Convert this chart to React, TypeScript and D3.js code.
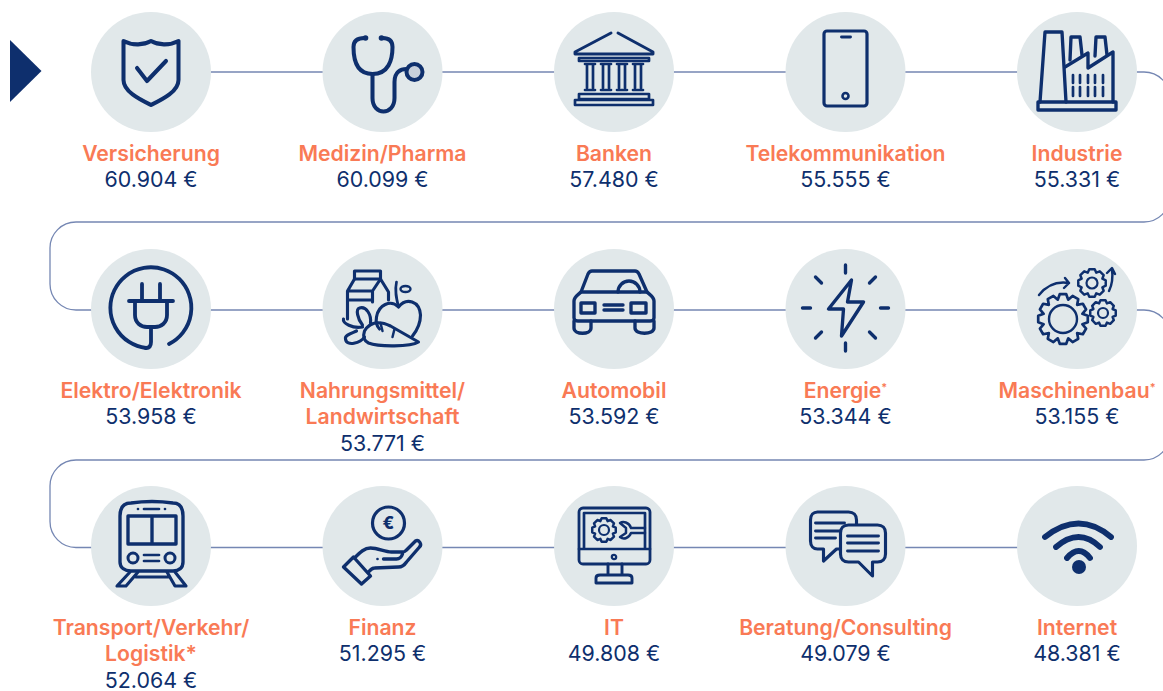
import React from "react";
import * as d3 from "d3";

const width = 1163;
const height = 691;

const categories = [
  ["Versicherung"],
  ["Medizin/Pharma"],
  ["Banken"],
  ["Telekommunikation"],
  ["Industrie"],
  ["Elektro/Elektronik"],
  ["Nahrungsmittel/", "Landwirtschaft"],
  ["Automobil"],
  ["Energie"],
  ["Maschinenbau"],
  ["Transport/Verkehr/", "Logistik*"],
  ["Finanz"],
  ["IT"],
  ["Beratung/Consulting"],
  ["Internet"],
];
const salaries = [
  60904, 60099, 57480, 55555, 55331, 53958, 53771, 53592, 53344, 53155, 52064,
  51295, 49808, 49079, 48381,
];
const superscriptStar = ["Energie", "Maschinenbau"];

const navy = "#0e2f6d";
const coral = "#f97a55";
const disc = "#e1e8ea";
const wire = "#7587b3";

const columns = [0, 1, 2, 3, 4];
const rows = [0, 1, 2];
const xScale = d3.scalePoint<number>().domain(columns).range([151, 1077]);
const yScale = d3.scalePoint<number>().domain(rows).range([72, 546]);

const de = d3.formatLocale({
  decimal: ",",
  thousands: ".",
  grouping: [3],
  currency: ["", " €"],
});
const euro = de.format(",d");

// cog outline, used by a few of the icons
const gearPath = (outer: number, inner: number, teeth: number) => {
  const pts: [number, number][] = [];
  const step = (Math.PI * 2) / teeth;
  for (let i = 0; i < teeth; i++) {
    const a = i * step;
    [
      [-0.5, inner],
      [-0.25, outer],
      [0.25, outer],
      [0.5, inner],
    ].forEach(([f, r]) => pts.push([a + f * step, r]));
  }
  return d3.lineRadial().curve(d3.curveLinearClosed)(pts) as string;
};

const S = (d: string, sw = 3, fill = "none") => (
  <path d={d} fill={fill} stroke={navy} strokeWidth={sw * 1.12} strokeLinejoin="round" strokeLinecap="round" />
);

const Gear = ({ x, y, r, hole, teeth, sw = 2.4 }: any) => (
  <g transform={`translate(${x},${y})`}>
    {S(gearPath(r, r * 0.8, teeth), sw)}
    <circle r={hole} fill="none" stroke={navy} strokeWidth={sw} />
  </g>
);

const icons: React.ReactNode[] = [
  <g>
    {S("M-27.5,-31 C-18,-26 -7,-27 0,-31 C7,-27 18,-26 27.5,-31 L27.5,8 C27.5,20 10,28 0,33 C-10,28 -27.5,20 -27.5,8 Z", 3.6)}
    {S("M-14,-4 L-4,9 L15,-11", 3.6)}
  </g>,
  <g>
    {S("M-18,-34 C-24,-34 -29,-32 -29,-25 C-29,-12 -26,2 -10,2 C6,2 10,-12 10,-25 C10,-32 6,-34 0,-34", 3.6)}
    {S("M-10,2 L-10,26 C-10,44 12,44 12,26 L12,10 C12,0 18,-3 24,-3", 3.6)}
    <circle cx={-17} cy={-34} r={2.8} fill={navy} />
    <circle cx={-1} cy={-34} r={2.8} fill={navy} />
    <circle cx={32} cy={0} r={8} fill="#c7cfdb" stroke={navy} strokeWidth={4} />
  </g>,
  <g>
    {S("M-3,-39 L-39,-20 L-39,-18 L39,-18 L39,-20 L4,-39", 2.6)}
    {S("M-35,-14 L35,-14 M-35,-14 L-35,-11 L35,-11 L35,-14", 2.4)}
    {[-24, -8, 8, 24].map((c) => (
      <g key={c}>
        {S(`M${c - 5},-8 L${c + 5},-8 M${c - 3},-8 L${c - 3},16 M${c + 3},-8 L${c + 3},16 M${c - 5},18 L${c + 5},18`, 2.4)}
      </g>
    ))}
    {S("M-35,22 L35,22 L35,27 L-35,27 Z", 2.4)}
    {S("M-39,28 L39,28 L39,33 L-39,33 Z", 2.4)}
  </g>,
  <g>
    <rect x={-21.5} y={-41} width={43} height={75} rx={3} fill="none" stroke={navy} strokeWidth={3.2} />
    {S("M-4,-35 L5,-35", 2.6)}
    <circle cx={0} cy={24} r={3} fill="none" stroke={navy} strokeWidth={2.6} />
  </g>,
  <g>
    {S("M-15,-40 L-32,-40 L-37,30 M-15,-40 L-11,30", 3)}
    {S("M-39,30 L39,30 L39,38 L-39,38 Z", 3)}
    {S("M-7,-12 L-6,-35 L3,-35 L5,-17", 3)}
    {S("M18,-16 L19,-35 L28,-35 L30,-17", 3)}
    {S("M-12,-5 L11,-19 L11,-4 L36,-20 L36,30", 3)}
    {[-4, 3, 11, 18, 26].map((c) => (
      <g key={c}>{S(`M${c},3 L${c},11 M${c},15 L${c},24`, 2.4)}</g>
    ))}
  </g>,
  <g>
    {S("M-5,39 A40.5,40.5 0 1 1 18,35", 3.4)}
    {S("M-9,-25 L-9,-8 M9,-25 L9,-8 M-22,-8 L22,-8", 3.4)}
    {S("M-16,-8 L-16,6 C-16,14 -10,18 -4,18 L4,18 C10,18 16,14 16,6 L16,-8", 3.4)}
    {S("M0,18 L0,33 C0,37 -2,39 -5,39", 3.4)}
  </g>,
  <g>
    {S("M-28,-38 L-2,-38 L-2,-30 L-28,-30 Z", 2.8)}
    {S("M-28,-30 L-35,-18 L-35,10 M-2,-30 L-10,-18 L-10,-7 M-2,-30 L6,-17 L6,-9 M-35,-18 L-10,-18 M-35,-9 L-10,-9", 2.8)}
    {S("M16,-2 C8,-10 -4,-4 -6,8 C-7,14 -5,18 -3,20 M16,-2 C24,-12 37,-8 38,6 C38,16 34,22 30,27", 2.8)}
    {S("M14,-27 C12,-18 14,-10 16,-2", 2.4)}
    <ellipse cx={23} cy={-20} rx={5} ry={3} fill="none" stroke={navy} strokeWidth={2.4} />
    {S("M-18,22 C-12,12 -2,12 8,17 L36,33 C28,38 -4,38 -14,34 C-18,32 -20,28 -18,22 Z", 2.8)}
    {S("M-20,16 C-25,10 -27,0 -23,-1 C-16,-3 -11,6 -12,14 M-20,18 C-30,20 -40,14 -39,10 M-18,28 C-22,34 -36,38 -37,30 C-38,26 -30,24 -26,22", 2.8)}
    {S("M-2,14 L0,22 M12,20 L10,28", 2.2)}
  </g>,
  <g>
    {S("M-33,-17 L-26,-35 C-25,-37 -24,-38 -22,-38 L21,-38 C23,-38 24,-37 25,-35 L33,-17", 3)}
    {S("M-33,-17 L33,-17 C36,-14 40,-12 40,-8 L40,9 C40,11 38,12 36,12 L-36,12 C-38,12 -40,11 -40,9 L-40,-8 C-40,-12 -36,-14 -33,-17 Z", 3)}
    {S("M4,-17 A11,11 0 0 1 26,-17", 3)}
    {S("M-33,-6 L-19,-6 L-19,4 L-33,4 Z M17,-6 L32,-6 L32,4 L17,4 Z M-10,-4 L9,-4 M-10,1 L9,1", 3)}
    {S("M-40,12 L-40,19 C-40,26 -23,26 -23,19 L-23,12 M21,12 L21,19 C21,26 40,26 40,19 L40,12", 3)}
  </g>,
  <g>
    {S("M6,-29 L-17,0 L-2,0 L-4,27 L18,-7 L2,-7 Z", 3)}
    {S("M0,-44 L0,-36 M0,34 L0,42 M-43,-1 L-35,-1 M35,-1 L43,-1 M-30,-32 L-24,-26 M30,-32 L24,-26 M-30,29 L-24,23 M30,29 L24,23", 3)}
  </g>,
  <g>
    <Gear x={-14} y={10} r={25} hole={14} teeth={12} sw={2.4} />
    <Gear x={15} y={-26} r={14} hole={5.5} teeth={8} sw={2.2} />
    <Gear x={26} y={4} r={13} hole={5} teeth={8} sw={2.2} />
    {S("M-38,-14 C-30,-24 -20,-28 -8,-26 M-12,-31 L-8,-26 L-13,-21", 2.2)}
    {S("M32,-18 C36,-26 36,-32 35,-40 M30,-36 L35,-41 L38,-35", 2.2)}
  </g>,
  <g>
    {S("M-31,-30 C-31,-40 -26,-43 -20,-43 C-6,-45 8,-45 22,-43 C28,-43 32,-40 32,-30 L32,16 C32,22 28,25 22,25 L-20,25 C-26,25 -31,22 -31,16 Z", 3)}
    {S("M-23,-30 L25,-30 L25,-2 L-23,-2 Z M1,-30 L1,-2", 3)}
    <circle cx={-18} cy={12} r={5} fill="none" stroke={navy} strokeWidth={3} />
    <circle cx={19} cy={12} r={5} fill="none" stroke={navy} strokeWidth={3} />
    {S("M-7,9 L8,9 M-7,15 L8,15 M-7,-37 L8,-37", 2.4)}
    {S("M-13,-37 L-13,-37 M14,-37 L14,-37", 2.4)}
    {S("M-21,26 L-34,40 L-25,40 L-13,26 M16,26 L24,40 L35,40 L24,26 M-15,31 L18,31", 2.8)}
  </g>,
  <g>
    <circle cx={6} cy={-23} r={16} fill="none" stroke={navy} strokeWidth={3.2} />
    <text x={6} y={-17} textAnchor="middle" fontFamily="Inter" fontWeight={800} fontSize={17} fill={navy}>€</text>
    {S("M-39,21 L-29,11 L-12,30 L-21,38 Z", 3)}
    {S("M-28,12 C-22,6 -18,2 -12,2 C-4,2 2,6 9,6 L20,6 C22,6 22,6 24,4 L33,-5 C36,-7 40,-2 37,1 L24,16 C22,19 20,21 16,21 L-8,22 C-11,22 -13,25 -14,26", 3)}
    {S("M1,13 L14,13 C17,13 19,11 20,8", 3)}
    {S("M-5,13 L-5,13", 2.4)}
  </g>,
  <g>
    <rect x={-35} y={-38} width={71} height={56} rx={4} fill="none" stroke={navy} strokeWidth={2.8} />
    {S("M-30,3 L-30,-33 L31,-33 L31,3 M-35,3 L36,3", 2.4)}
    <circle cx={0} cy={11} r={2.2} fill="none" stroke={navy} strokeWidth={2.2} />
    {S("M-6,18 L-6,29 M8,18 L8,29 M-18,37 L18,37 L18,32 C18,30 16,29 14,29 L-14,29 C-16,29 -18,30 -18,32 Z", 2.6)}
    <Gear x={-10} y={-16} r={12} hole={5} teeth={8} sw={2.2} />
    {S("M31,-18 L17,-18 C15,-24 9,-25 6,-23 L12,-18 L12,-13 L6,-9 C10,-6 15,-8 17,-13 L31,-13", 2.2)}
  </g>,
  <g>
    {S("M-28,-34 L3,-34 C8,-34 11,-31 11,-26 L11,-5 C11,0 8,3 3,3 L-9,3 L-22,15 L-22,3 L-28,3 C-32,3 -35,0 -35,-5 L-35,-26 C-35,-31 -32,-34 -28,-34 Z", 2.8)}
    {S("M-30,-23 L-1,-23 M-30,-15 L-1,-15 M-30,-8 L-10,-8", 2.6)}
    {S("M3,-21 L32,-21 C37,-21 40,-18 40,-13 L40,8 C40,13 37,16 32,16 L27,16 L27,30 L13,16 L3,16 C-2,16 -5,13 -5,8 L-5,-13 C-5,-18 -2,-21 3,-21 Z", 2.8, disc)}
    {S("M2,-10 L33,-10 M2,-3 L33,-3 M2,5 L33,5", 2.6)}
  </g>,
  <g>
    {S("M-32,-9 Q2,-36 34,-9", 5.2)}
    {S("M-21,1 Q2,-19 23,1", 5.2)}
    {S("M-10,12 Q2,-2 13,12", 5.2)}
    <circle cx={2} cy={21} r={7} fill={navy} />
  </g>,
];

// the single line that snakes behind all discs
const wirePath = () => {
  const p = d3.path();
  const left = 50;
  const right = 1170;
  const r = 26;
  const y0 = yScale(0)!;
  const y1 = yScale(1)! + 1;
  const y2 = yScale(2)! + 1.5;
  const turn1 = 222;
  const turn2 = 460;
  p.moveTo(xScale(0)!, y0);
  p.lineTo(right - r, y0);
  p.arcTo(right, y0, right, y0 + r, r);
  p.lineTo(right, turn1 - r);
  p.arcTo(right, turn1, right - r, turn1, r);
  p.lineTo(left + r, turn1);
  p.arcTo(left, turn1, left, turn1 + r, r);
  p.lineTo(left, y1 - r);
  p.arcTo(left, y1, left + r, y1, r);
  p.lineTo(right - r, y1);
  p.arcTo(right, y1, right, y1 + r, r);
  p.lineTo(right, turn2 - r);
  p.arcTo(right, turn2, right - r, turn2, r);
  p.lineTo(left + r, turn2);
  p.arcTo(left, turn2, left, turn2 + r, r);
  p.lineTo(left, y2 - r);
  p.arcTo(left, y2, left + r, y2, r);
  p.lineTo(xScale(4)!, y2);
  return p.toString();
};

const App = () => {
  const labelFont = "Inter, sans-serif";
  return (
    <svg
      width={width}
      height={height}
      viewBox={`0 0 ${width} ${height}`}
      style={{ position: "absolute", left: 0, top: 0, background: "#fff" }}
    >
      <path d={wirePath()} fill="none" stroke={wire} strokeWidth={1.3} />
      <path d="M10,40 L41.5,71 L10,102 Z" fill={navy} />
      {categories.map((lines, i) => {
        const col = i % 5;
        const row = Math.floor(i / 5);
        const x = xScale(col)!;
        const y = yScale(row)!;
        return (
          <g key={lines[0]} transform={`translate(${x},${y})`}>
            <circle r={60} fill={disc} />
            {icons[i]}
            <text textAnchor="middle" fontFamily={labelFont} fontSize={21.2} fontWeight={600} fill={coral}>
              {lines.map((l, k) => (
                <tspan key={l} x={0} y={88.5 + k * 26.5}>
                  {l}
                  {superscriptStar.includes(l) && (
                    <tspan fontSize={11} dy={-7}>*</tspan>
                  )}
                </tspan>
              ))}
            </text>
            <text
              x={0}
              y={115.4 + (lines.length - 1) * 26.5}
              textAnchor="middle"
              fontFamily={labelFont}
              fontSize={21.4}
              fill={navy}
            >
              {euro(salaries[i])} €
            </text>
          </g>
        );
      })}
    </svg>
  );
};

export default App;
